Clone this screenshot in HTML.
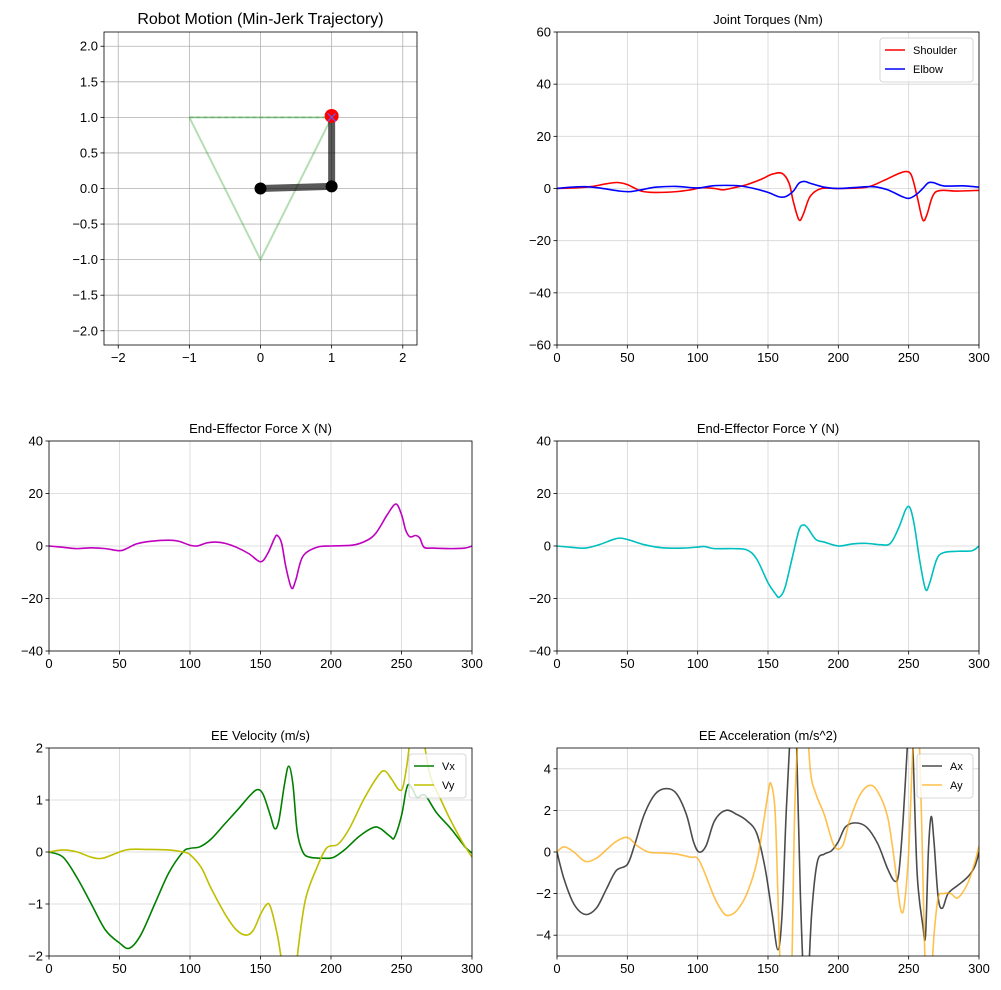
<!DOCTYPE html>
<html><head><meta charset="utf-8"><style>
html,body{margin:0;padding:0;background:#fff;}
svg{display:block;font-family:"Liberation Sans","DejaVu Sans",sans-serif;}
</style></head><body>
<svg id="fig" width="1001" height="990" viewBox="0 0 1001 990" xmlns="http://www.w3.org/2000/svg"></svg>
<script>
// ---- data ----
const torqueT_sh=[0,15,25,35,43,50,60,70,85,95,103,112,118,125,135,145,153,160,165,168,172,175,180,188,200,220,232,242,248,252,256,260,263,267,272,285,300];
const torqueShoulder=[0,0.3,0.8,1.8,2.3,1.5,-1,-1.5,-1.2,-0.5,0.3,0,-0.5,0.2,1.5,3.5,5.5,5.8,2,-5,-12,-10,-3,0,0,0.5,3,5.5,6.5,5,-3,-12,-10,-3,-0.8,-1,-0.7];
const torqueT_el=[0,10,20,30,45,52,60,70,85,100,110,120,130,140,150,158,163,168,172,176,180,190,200,215,225,235,245,250,255,260,264,268,275,290,300];
const torqueElbow=[0,0.5,0.7,0.2,-1,-1.2,-0.5,0.5,0.8,0.2,1,1.2,1,0,-1.5,-3.2,-3,-1,2,2.7,2,0.5,0,0.5,0.7,-0.5,-3,-3.8,-2.5,0,2.2,2.2,1,1,0.5];
const fxT=[0,10,20,30,40,50,55,62,72,85,92,100,105,112,118,125,133,142,150,155,160,162,165,168,172,175,180,190,200,215,225,232,240,246,250,253,256,260,263,266,272,285,295,300];
const forceX=[0,-0.5,-1,-0.7,-1,-1.8,-1,0.8,1.8,2.2,1.8,0.3,0,1.2,1.5,1.0,-0.5,-3,-6,-3,3,4,1,-8,-16,-13,-4,-0.5,0,0.3,2,5,12,16,12,6,3.5,4,3,-0.5,-0.8,-1,-0.8,0];
const fyT=[0,10,20,30,40,45,52,62,75,90,100,105,112,125,135,142,150,155,158,162,167,172,175,178,184,190,200,210,220,230,237,243,248,251,254,258,262,265,270,275,285,295,300];
const forceY=[0,-0.5,-0.8,0.5,2.5,3,2.2,0.5,-0.7,-0.8,-0.4,-0.2,-1,-1,-1.5,-5,-14,-18,-19.5,-16,-5,6,8,7,2.5,1.5,0,0.8,1,0.5,1,7,14,14.5,8,-6,-16.5,-14,-5,-2.5,-2,-1.8,0];
const vxT=[0,10,20,30,40,50,57,65,75,85,95,100,107,115,125,135,143,148,152,157,160,163,167,170,173,176,180,185,195,202,210,220,230,235,242,245,250,253,255,258,261,265,268,275,285,295,300];
const velX=[0,-0.1,-0.5,-1.0,-1.5,-1.75,-1.85,-1.6,-1.0,-0.4,0,0.07,0.1,0.25,0.55,0.85,1.1,1.2,1.1,0.7,0.45,0.6,1.3,1.65,1.3,0.4,0,-0.1,-0.12,-0.1,0.05,0.3,0.47,0.45,0.3,0.28,0.7,1.15,1.3,1.2,1.05,1.1,1.05,0.75,0.45,0.1,-0.02];
const vyT=[0,10,20,30,38,50,57,70,85,95,100,108,115,125,133,140,145,150,154,157,162,165,168,172,174,177,182,190,197,205,213,223,233,238,243,248,251,254,257,262,265,270,278,285,293,300];
const velY=[0,0.04,0,-0.1,-0.12,0,0.05,0.05,0.04,0,-0.05,-0.3,-0.7,-1.2,-1.5,-1.6,-1.5,-1.2,-1.02,-1.05,-1.6,-2.1,-2.6,-2.9,-2.6,-1.8,-0.9,-0.3,0.08,0.15,0.45,1.0,1.45,1.56,1.4,1.2,1.25,1.7,2.3,2.6,2.3,1.5,1.0,0.6,0.2,-0.1];
const axT=[0,5,12,20,28,35,42,50,55,62,70,78,85,92,97,101,106,112,120,128,135,142,148,153,157,160,163,166,168,170,173,176,178,181,185,190,195,200,205,212,220,228,235,240,243,246,249,251,253,256,260,262,264,266,268,271,274,278,285,292,297,300];
const accX=[0,-1.3,-2.5,-3.0,-2.7,-1.8,-0.9,-0.6,0.3,1.8,2.8,3.05,2.8,1.8,0.5,0,0.3,1.5,2.0,1.8,1.5,0.9,-0.8,-3,-4.7,-3,2,6,8,6,-2,-7,-7,-3,-0.5,-0.1,0.05,0.5,1.2,1.4,1.2,0.4,-0.8,-1.4,-1,1.5,5,7,5,-1,-3.5,-4,0,1.7,0.5,-2.2,-2.7,-2.0,-1.6,-1.2,-0.7,0];
const ayT=[0,5,12,20,28,35,42,50,57,65,75,85,95,100,105,112,118,122,128,135,142,147,150,152,155,157,159,162,166,169,172,176,180,184,190,197,203,208,215,222,228,235,240,243,245,247,250,253,256,259,262,265,268,271,275,280,285,292,297,300];
const accY=[0,0.25,0,-0.45,-0.3,0.1,0.5,0.7,0.3,0,-0.05,-0.1,-0.25,-0.3,-1.0,-2.2,-2.9,-3.05,-2.8,-2,-0.5,1.5,2.8,3.3,2,-2,-6,-8,-8,2,6,8,4,2.8,1.8,0.3,0.3,1.5,2.7,3.2,2.9,1.7,-0.5,-2.2,-2.9,-2.5,0,5,8,2,-6,-7,-4,-2.2,-2.0,-2.0,-2.2,-1.5,-0.5,0.3];
const pathX=[-1,1,0,-1];
const pathY=[1,1,-1,1];
const armX=[0,1,1];
const armY=[0,0.03,1.02];
const timeTicks=[0,50,100,150,200,250,300];
const posTicks=[-2,-1,0,1,2];
const posTicksY=[-2,-1.5,-1,-0.5,0,0.5,1,1.5,2];
const torqueTicks=[-60,-40,-20,0,20,40,60];
const forceTicks=[-40,-20,0,20,40];
const velTicks=[-2,-1,0,1,2];
const accTicks=[-4,-2,0,2,4];

// ---- drawing ----
const NS="http://www.w3.org/2000/svg";
const fig=document.getElementById('fig');
function mk(tag,attrs,parent){const e=document.createElementNS(NS,tag);for(const k in attrs)e.setAttribute(k,attrs[k]);(parent||fig).appendChild(e);return e;}
let clipN=0;
function axes(name,x0,y0,x1,y1,xmin,xmax,ymin,ymax,xt,yt,title,titleSize,gridCol,yfmt){
  const g=mk('g',{});
  
  
  const sx=v=>x0+(v-xmin)/(xmax-xmin)*(x1-x0);
  const sy=v=>y1-(v-ymin)/(ymax-ymin)*(y1-y0);
  const id='c'+(clipN++);
  const cp=mk('clipPath',{id:id},g);mk('rect',{x:x0,y:y0,width:x1-x0,height:y1-y0},cp);
  xt.forEach(v=>{const l=mk('line',{x1:sx(v),x2:sx(v),y1:y0,y2:y1,stroke:gridCol,'stroke-width':0.8},g);
    
    mk('line',{x1:sx(v),x2:sx(v),y1:y1,y2:y1+3.5,stroke:'#000','stroke-width':0.8},g);
    const t=mk('text',{x:sx(v),y:y1+17,'font-size':13,'text-anchor':'middle',fill:'#000'},g);t.textContent=(v<0?'\u2212'+(-v):''+v);
    });
  yt.forEach(v=>{const l=mk('line',{x1:x0,x2:x1,y1:sy(v),y2:sy(v),stroke:gridCol,'stroke-width':0.8},g);
    
    mk('line',{x1:x0-3.5,x2:x0,y1:sy(v),y2:sy(v),stroke:'#000','stroke-width':0.8},g);
    const s=yfmt?yfmt(v):''+v;
    const t=mk('text',{x:x0-6,y:sy(v)+4.5,'font-size':13,'text-anchor':'end',fill:'#000'},g);t.textContent=(v<0?'\u2212':'')+s.replace('-','');
    });
  const tt=mk('text',{x:(x0+x1)/2,y:y0-8,'font-size':titleSize,'text-anchor':'middle',fill:'#000'},g);tt.textContent=title;
  
  const plot=mk('g',{'clip-path':'url(#'+id+')'},g);
  const fr=mk('rect',{x:x0,y:y0,width:x1-x0,height:y1-y0,fill:'none',stroke:'#000','stroke-width':0.8},g);
  
  return {g,plot,sx,sy,x0,y0,x1,y1};
}
function smooth(ax,xs,ys,color,name,opacity){
  const p=xs.map((x,i)=>[ax.sx(x),ax.sy(ys[i])]);
  let d='M'+p[0][0]+','+p[0][1];
  for(let i=0;i<p.length-1;i++){
    const p0=p[Math.max(0,i-1)],p1=p[i],p2=p[i+1],p3=p[Math.min(p.length-1,i+2)];
    const c1=[p1[0]+(p2[0]-p0[0])/6,p1[1]+(p2[1]-p0[1])/6];
    const c2=[p2[0]-(p3[0]-p1[0])/6,p2[1]-(p3[1]-p1[1])/6];
    d+=' C'+c1+' '+c2+' '+p2;
  }
  const e=mk('path',{d:d,fill:'none',stroke:color,'stroke-width':1.6,'stroke-opacity':opacity||1},ax.plot);
  
  
}
function legend(ax,x,y,w,items){
  const g=mk('g',{},ax.g);
  
  
  mk('rect',{x:x,y:y,width:w,height:items.length*19+6,rx:3,fill:'#fff','fill-opacity':0.8,stroke:'#ccc','stroke-width':0.8},g);
  items.forEach((it,i)=>{
    const ly=y+12+i*19;
    mk('line',{x1:x+5,x2:x+25,y1:ly,y2:ly,stroke:it[1],'stroke-width':1.6,'stroke-opacity':it[2]||1},g);
    const t=mk('text',{x:x+33,y:ly+4,'font-size':11,fill:'#000'},g);t.textContent=it[0];
    
  });
}
const G='#d5d5d5';
// Robot
const r=axes('robot-motion-chart',104,32,417,345,-2.2,2.2,-2.2,2.2,posTicks,posTicksY,'Robot Motion (Min-Jerk Trajectory)',16,'#b0b0b0',v=>v.toFixed(1));
let pd='';pathX.forEach((x,i)=>{pd+=(i?'L':'M')+r.sx(x)+','+r.sy(pathY[i]);});
const tp=mk('path',{d:pd,fill:'none',stroke:'#2ca02c','stroke-opacity':0.35,'stroke-width':2},r.plot);

const tl=mk('line',{x1:r.sx(-1),y1:r.sy(1),x2:r.sx(1),y2:r.sy(1),stroke:'#2ca02c','stroke-opacity':0.4,'stroke-width':1.5,'stroke-dasharray':'4,3'},r.plot);
let ad='';armX.forEach((x,i)=>{ad+=(i?'L':'M')+r.sx(x)+','+r.sy(armY[i]);});
const arm=mk('path',{d:ad,fill:'none',stroke:'#000','stroke-opacity':0.65,'stroke-width':7},r.plot);

[0,1].forEach(i=>{const c=mk('circle',{cx:r.sx(armX[i]),cy:r.sy(armY[i]),r:6,fill:'#000'},r.plot);});
const ee=mk('circle',{cx:r.sx(armX[2]),cy:r.sy(armY[2]),r:7,fill:'#ff0000'},r.plot);

const ex=r.sx(1),ey=r.sy(1);
mk('path',{d:`M${ex-4},${ey-4}L${ex+4},${ey+4}M${ex-4},${ey+4}L${ex+4},${ey-4}`,stroke:'#6060ff','stroke-width':1.2},r.plot);
// Torques
const tq=axes('joint-torques-chart',557,32,979,345,0,300,-60,60,timeTicks,torqueTicks,'Joint Torques (Nm)',13,G);
smooth(tq,torqueT_sh,torqueShoulder,'#ff0000','shoulder-line');
smooth(tq,torqueT_el,torqueElbow,'#0000ff','elbow-line');
legend(tq,880,38,93,[['Shoulder','#ff0000'],['Elbow','#0000ff']]);
// Force X
const fx=axes('force-x-chart',49,441,472,651,0,300,-40,40,timeTicks,forceTicks,'End-Effector Force X (N)',13,G);
smooth(fx,fxT,forceX,'#bf00bf','force-x-line');
// Force Y
const fy=axes('force-y-chart',557,441,979,651,0,300,-40,40,timeTicks,forceTicks,'End-Effector Force Y (N)',13,G);
smooth(fy,fyT,forceY,'#00bfbf','force-y-line');
// Velocity
const vel=axes('velocity-chart',49,748,472,956,0,300,-2,2,timeTicks,velTicks,'EE Velocity (m/s)',13,G);
smooth(vel,vxT,velX,'#008000','vx-line');
smooth(vel,vyT,velY,'#bfbf00','vy-line');
legend(vel,409,754,57,[['Vx','#008000'],['Vy','#bfbf00']]);
// Acceleration
const acc=axes('acceleration-chart',557,748,979,956,0,300,-5,5,timeTicks,accTicks,'EE Acceleration (m/s^2)',13,G);
smooth(acc,axT,accX,'#000000','ax-line',0.7);
smooth(acc,ayT,accY,'#ffa500','ay-line',0.7);
legend(acc,917,754,56,[['Ax','#000000',0.7],['Ay','#ffa500',0.7]]);
</script>
</body></html>
